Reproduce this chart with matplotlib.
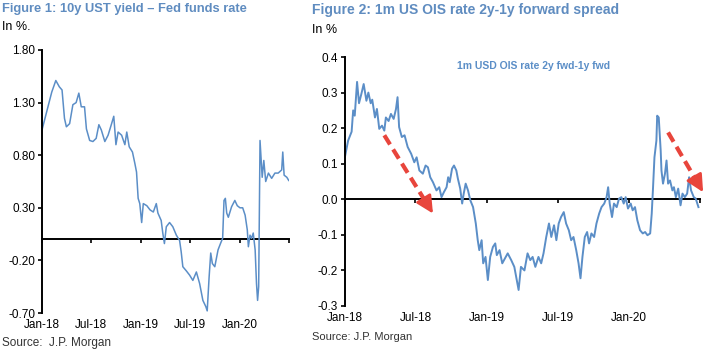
import matplotlib
matplotlib.use("Agg")
import matplotlib.pyplot as plt
import matplotlib.dates as mdates
import pandas as pd

plt.rcParams["font.family"] = ["Liberation Sans", "DejaVu Sans"]

# Figure 1: 10y UST yield - Fed funds rate (in %)
ust_dates = [
    "2018-01-01", "2018-01-18", "2018-02-06", "2018-02-21", "2018-03-06", "2018-03-16",
    "2018-03-25", "2018-04-01", "2018-04-13", "2018-04-25", "2018-05-07", "2018-05-17",
    "2018-05-26", "2018-06-07", "2018-06-14", "2018-06-26", "2018-07-08", "2018-07-20",
    "2018-07-30", "2018-08-08", "2018-08-21", "2018-09-02", "2018-09-15", "2018-09-23",
    "2018-10-01", "2018-10-09", "2018-10-22", "2018-11-03", "2018-11-10", "2018-11-19",
    "2018-12-01", "2018-12-10", "2018-12-16", "2018-12-22", "2018-12-28", "2019-01-04",
    "2019-01-10", "2019-01-23", "2019-02-04", "2019-02-16", "2019-02-27", "2019-03-05",
    "2019-03-17", "2019-03-23", "2019-03-29", "2019-04-05", "2019-04-17", "2019-04-29",
    "2019-05-12", "2019-05-24", "2019-05-30", "2019-06-05", "2019-06-18", "2019-06-30",
    "2019-07-12", "2019-07-25", "2019-08-06", "2019-08-18", "2019-08-29", "2019-09-03",
    "2019-09-10", "2019-09-16", "2019-09-22", "2019-10-01", "2019-10-13", "2019-10-22",
    "2019-10-30", "2019-11-04", "2019-11-09", "2019-11-14", "2019-11-20", "2019-12-02",
    "2019-12-14", "2019-12-23", "2020-01-02", "2020-01-12", "2020-01-21", "2020-01-29",
    "2020-02-02", "2020-02-08", "2020-02-14", "2020-02-20", "2020-02-27", "2020-03-03",
    "2020-03-07", "2020-03-11", "2020-03-16", "2020-03-24", "2020-03-30", "2020-04-06",
    "2020-04-16", "2020-04-28", "2020-05-10", "2020-05-22", "2020-06-04", "2020-06-08",
    "2020-06-13", "2020-06-23", "2020-06-30",
]
ust_spread = [
    1.04, 1.21, 1.40, 1.51, 1.45, 1.42,
    1.15, 1.07, 1.10, 1.28, 1.30, 1.39,
    1.26, 1.26, 1.05, 0.94, 0.93, 0.96,
    1.09, 1.04, 0.93, 0.99, 1.10, 1.17,
    0.90, 1.02, 0.99, 0.90, 1.02, 0.88,
    0.83, 0.72, 0.64, 0.39, 0.34, 0.16,
    0.34, 0.32, 0.28, 0.26, 0.34, 0.25,
    0.18, 0.06, -0.04, 0.12, 0.16, 0.12,
    0.04, -0.01, -0.12, -0.26, -0.30, -0.34,
    -0.39, -0.31, -0.42, -0.58, -0.64, -0.68,
    -0.36, -0.13, -0.23, -0.26, -0.10, -0.04,
    0.01, 0.37, 0.39, 0.25, 0.21, 0.31,
    0.37, 0.32, 0.30, 0.30, 0.23, 0.09,
    -0.07, 0.04, 0.01, 0.06, -0.10, -0.42,
    -0.58, -0.45, 0.94, 0.59, 0.75, 0.55,
    0.63, 0.58, 0.63, 0.63, 0.66, 0.83,
    0.61, 0.59, 0.56,
]

# Figure 2: 1m USD OIS rate 2y fwd - 1y fwd (in %)
ois_dates = [
    "2018-01-01", "2018-01-09", "2018-01-18", "2018-01-22", "2018-01-26", "2018-02-01",
    "2018-02-06", "2018-02-12", "2018-02-18", "2018-02-25", "2018-03-02", "2018-03-08",
    "2018-03-12", "2018-03-19", "2018-03-24", "2018-03-30", "2018-04-06", "2018-04-12",
    "2018-04-16", "2018-04-23", "2018-04-29", "2018-05-06", "2018-05-12", "2018-05-16",
    "2018-05-20", "2018-05-27", "2018-06-03", "2018-06-11", "2018-06-20", "2018-06-28",
    "2018-07-04", "2018-07-11", "2018-07-20", "2018-07-27", "2018-08-02", "2018-08-08",
    "2018-08-15", "2018-08-24", "2018-08-31", "2018-09-06", "2018-09-12", "2018-09-19",
    "2018-09-23", "2018-09-27", "2018-10-03", "2018-10-08", "2018-10-14", "2018-10-18",
    "2018-10-24", "2018-10-29", "2018-11-02", "2018-11-07", "2018-11-13", "2018-11-19",
    "2018-11-26", "2018-12-03", "2018-12-08", "2018-12-12", "2018-12-18", "2018-12-22",
    "2018-12-28", "2019-01-03", "2019-01-09", "2019-01-16", "2019-01-22", "2019-01-26",
    "2019-02-02", "2019-02-09", "2019-02-16", "2019-02-23", "2019-03-04", "2019-03-12",
    "2019-03-23", "2019-03-29", "2019-04-07", "2019-04-15", "2019-04-22", "2019-04-28",
    "2019-05-05", "2019-05-13", "2019-05-20", "2019-05-26", "2019-06-02", "2019-06-09",
    "2019-06-15", "2019-06-22", "2019-06-28", "2019-07-04", "2019-07-10", "2019-07-17",
    "2019-07-23", "2019-07-30", "2019-08-05", "2019-08-11", "2019-08-18", "2019-08-24",
    "2019-08-29", "2019-09-03", "2019-09-09", "2019-09-15", "2019-09-20", "2019-09-26",
    "2019-10-03", "2019-10-09", "2019-10-16", "2019-10-22", "2019-10-29", "2019-11-04",
    "2019-11-08", "2019-11-12", "2019-11-18", "2019-11-23", "2019-11-30", "2019-12-06",
    "2019-12-12", "2019-12-18", "2019-12-23", "2019-12-29", "2020-01-05", "2020-01-10",
    "2020-01-16", "2020-01-22", "2020-01-29", "2020-02-05", "2020-02-11", "2020-02-17",
    "2020-02-24", "2020-02-28", "2020-03-02", "2020-03-06", "2020-03-11", "2020-03-13",
    "2020-03-17", "2020-03-22", "2020-03-24", "2020-03-28", "2020-04-02", "2020-04-06",
    "2020-04-10", "2020-04-15", "2020-04-21", "2020-04-25", "2020-04-30", "2020-05-06",
    "2020-05-12", "2020-05-17", "2020-05-23", "2020-05-29", "2020-06-03", "2020-06-08",
    "2020-06-15", "2020-06-20", "2020-06-27",
]
ois_spread = [
    0.120, 0.165, 0.190, 0.250, 0.235, 0.330,
    0.270, 0.296, 0.324, 0.277, 0.300, 0.270,
    0.280, 0.230, 0.254, 0.198, 0.207, 0.193,
    0.230, 0.220, 0.240, 0.226, 0.254, 0.287,
    0.203, 0.175, 0.180, 0.147, 0.128, 0.104,
    0.118, 0.081, 0.072, 0.095, 0.090, 0.062,
    0.048, 0.025, 0.034, 0.006, 0.020, 0.034,
    0.062, 0.048, 0.086, 0.095, 0.081, 0.058,
    0.030, -0.012, 0.016, 0.044, 0.025, -0.003,
    -0.022, -0.068, -0.115, -0.143, -0.115, -0.180,
    -0.162, -0.227, -0.162, -0.134, -0.124, -0.157,
    -0.143, -0.180, -0.166, -0.152, -0.171, -0.190,
    -0.255, -0.190, -0.200, -0.152, -0.171, -0.162,
    -0.190, -0.162, -0.180, -0.152, -0.106, -0.068,
    -0.106, -0.073, -0.115, -0.068, -0.050, -0.036,
    -0.068, -0.087, -0.115, -0.106, -0.143, -0.180,
    -0.222, -0.162, -0.106, -0.092, -0.124, -0.096,
    -0.106, -0.068, -0.040, -0.022, -0.012, 0.006,
    0.034, -0.012, -0.050, -0.012, -0.022, 0.002,
    0.006, -0.012, 0.006, -0.026, -0.012, -0.031,
    -0.022, -0.059, -0.087, -0.096, -0.092, -0.101,
    -0.096, -0.040, 0.025, 0.118, 0.165, 0.235,
    0.230, 0.137, 0.081, 0.044, 0.072, 0.109,
    0.044, 0.053, 0.025, 0.034, 0.006, 0.030,
    -0.017, 0.016, 0.006, 0.016, 0.062, 0.025,
    0.006, 0.002, -0.022,
]

tick_dates = ["2018-01-01", "2018-07-01", "2019-01-01", "2019-07-01", "2020-01-01", "2020-07-01"]
tick_labels = ["Jan-18", "Jul-18", "Jan-19", "Jul-19", "Jan-20", ""]

ust_yticks = [1.80, 1.30, 0.80, 0.30, -0.20, -0.70]
ois_yticks = [0.4, 0.3, 0.2, 0.1, 0.0, -0.1, -0.2, -0.3]

# red trend arrows on figure 2: (start date, start value, end date, end value)
trend_arrows = [
    ("2018-04-12", 0.180, "2018-08-15", -0.040),
    ("2020-04-10", 0.188, "2020-07-09", 0.020),
]

LINE = "#5b8ec7"
TITLE = "#5f8cc0"
RED = "#e8453c"


def to_num(dates):
    return mdates.date2num(pd.to_datetime(dates))


def style_axis(ax, ymin, ymax, yticks, fmt):
    xt = to_num(tick_dates)
    ax.set_xlim(xt[0], xt[-1])
    ax.set_ylim(ymin, ymax)
    ax.set_yticks(yticks)
    ax.set_yticklabels([fmt.format(v) for v in yticks])
    ax.set_xticks(xt)
    ax.set_xticklabels(tick_labels)
    for side in ("top", "right", "bottom"):
        ax.spines[side].set_visible(False)
    ax.spines["left"].set_linewidth(1.4)
    ax.tick_params(axis="y", direction="out", length=3, width=1.2, labelsize=8.5, pad=2)
    ax.tick_params(axis="x", length=0, labelsize=8.5, pad=4)
    # zero line carrying the date ticks
    zero = ax.secondary_xaxis((0 - ymin) / (ymax - ymin))
    zero.set_xticks(xt)
    zero.tick_params(direction="out", length=3, width=1.2, labelbottom=False)
    zero.spines["bottom"].set_linewidth(1.4)


fig = plt.figure(figsize=(7.07, 3.5), dpi=100)

ax1 = fig.add_axes([42 / 707, 37 / 350, 247 / 707, 263 / 350])
ax1.plot(to_num(ust_dates), ust_spread, color=LINE, lw=1.1)
style_axis(ax1, -0.70, 1.80, ust_yticks, "{:.2f}")

ax2 = fig.add_axes([345 / 707, 44 / 350, 355 / 707, 249 / 350])
ax2.plot(to_num(ois_dates), ois_spread, color=LINE, lw=1.4)
style_axis(ax2, -0.3, 0.4, ois_yticks, "{:.1f}")
ax2.text(0.53, 0.965, "1m USD OIS rate 2y fwd-1y fwd", transform=ax2.transAxes,
         ha="center", va="center", fontsize=7.5, fontweight="bold", color=LINE)

for d0, v0, d1, v1 in trend_arrows:
    x0, x1 = to_num([d0, d1])
    xm = x0 + (x1 - x0) * 0.84
    vm = v0 + (v1 - v0) * 0.84
    ax2.plot([x0, xm], [v0, vm], color=RED, lw=3, ls=(0, (2.6, 1.4)), clip_on=False)
    ax2.annotate("", xy=(x1, v1), xytext=(xm, vm),
                 arrowprops=dict(arrowstyle="-|>,head_width=0.4,head_length=0.8",
                                 color=RED, lw=2, mutation_scale=13,
                                 shrinkA=0, shrinkB=0),
                 annotation_clip=False)

fig.text(2 / 707, 1 - 9 / 350, "Figure 1: 10y UST yield \u2013 Fed funds rate",
         fontsize=9.3, fontweight="bold", color=TITLE, va="center")
fig.text(2 / 707, 1 - 27 / 350, "In %.", fontsize=9, va="center")
fig.text(312 / 707, 1 - 10 / 350, "Figure 2: 1m US OIS rate 2y-1y forward spread",
         fontsize=10, fontweight="bold", color=TITLE, va="center")
fig.text(312 / 707, 1 - 30 / 350, "In %", fontsize=9, va="center")
fig.text(2 / 707, 1 - 343 / 350, "Source:  J.P. Morgan", fontsize=8.5, color="#333333", va="center")
fig.text(312 / 707, 1 - 337 / 350, "Source: J.P. Morgan", fontsize=8, color="#333333", va="center")

fig.savefig("out.png", dpi=100)
